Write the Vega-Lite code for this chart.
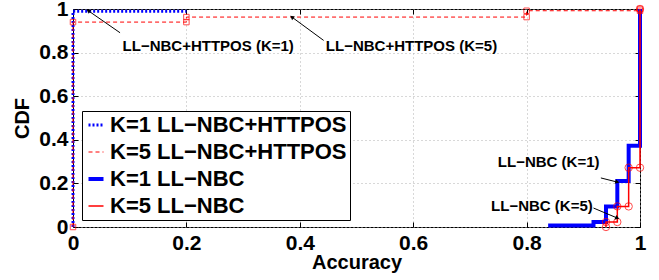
{
  "$schema": "https://vega.github.io/schema/vega-lite/v6.json",
  "width": 567,
  "height": 218,
  "autosize": {"type": "none"},
  "padding": {"left": 73, "top": 9, "right": 19, "bottom": 53},
  "background": "white",
  "config": {
    "view": {"stroke": "black", "strokeWidth": 1},
    "font": "Liberation Sans",
    "axis": {
      "labelFont": "Liberation Sans",
      "titleFont": "Liberation Sans",
      "labelFontSize": 21,
      "labelFontWeight": "bold",
      "labelColor": "black",
      "titleFontSize": 20,
      "titleFontWeight": "bold",
      "titleColor": "black",
      "tickColor": "black",
      "tickSize": -5,
      "labelPadding": 10,
      "domain": false,
      "gridColor": "#b0b0b0",
      "gridDash": [1, 3],
      "labelFlush": false,
      "labelOverlap": false
    }
  },
  "datasets": {
    "cdf": [
      {"s": "K=1 LL−NBC+HTTPOS", "o": 0, "x": 0, "y": 0},
      {"s": "K=1 LL−NBC+HTTPOS", "o": 1, "x": 0, "y": 0.99},
      {"s": "K=1 LL−NBC+HTTPOS", "o": 2, "x": 0.2, "y": 0.99},
      {"s": "K=5 LL−NBC+HTTPOS", "o": 0, "x": 0, "y": 0},
      {"s": "K=5 LL−NBC+HTTPOS", "o": 1, "x": 0, "y": 0.94},
      {"s": "K=5 LL−NBC+HTTPOS", "o": 2, "x": 0.2, "y": 0.94},
      {"s": "K=5 LL−NBC+HTTPOS", "o": 3, "x": 0.2, "y": 0.963},
      {"s": "K=5 LL−NBC+HTTPOS", "o": 4, "x": 0.8, "y": 0.963},
      {"s": "K=5 LL−NBC+HTTPOS", "o": 5, "x": 0.8, "y": 0.992},
      {"s": "K=5 LL−NBC+HTTPOS", "o": 6, "x": 1, "y": 0.992},
      {"s": "K=5 LL−NBC+HTTPOS", "o": 7, "x": 1, "y": 1},
      {"s": "K=1 LL−NBC", "o": 0, "x": 0.838, "y": 0.007},
      {"s": "K=1 LL−NBC", "o": 1, "x": 0.918, "y": 0.007},
      {"s": "K=1 LL−NBC", "o": 2, "x": 0.918, "y": 0.023},
      {"s": "K=1 LL−NBC", "o": 3, "x": 0.94, "y": 0.023},
      {"s": "K=1 LL−NBC", "o": 4, "x": 0.94, "y": 0.0945},
      {"s": "K=1 LL−NBC", "o": 5, "x": 0.96, "y": 0.0945},
      {"s": "K=1 LL−NBC", "o": 6, "x": 0.96, "y": 0.211},
      {"s": "K=1 LL−NBC", "o": 7, "x": 0.98, "y": 0.211},
      {"s": "K=1 LL−NBC", "o": 8, "x": 0.98, "y": 0.373},
      {"s": "K=1 LL−NBC", "o": 9, "x": 1, "y": 0.373},
      {"s": "K=1 LL−NBC", "o": 10, "x": 1, "y": 1},
      {"s": "K=5 LL−NBC", "o": 0, "x": 0.94, "y": 0},
      {"s": "K=5 LL−NBC", "o": 1, "x": 0.94, "y": 0.023},
      {"s": "K=5 LL−NBC", "o": 2, "x": 0.96, "y": 0.023},
      {"s": "K=5 LL−NBC", "o": 3, "x": 0.96, "y": 0.0945},
      {"s": "K=5 LL−NBC", "o": 4, "x": 0.98, "y": 0.0945},
      {"s": "K=5 LL−NBC", "o": 5, "x": 0.98, "y": 0.272},
      {"s": "K=5 LL−NBC", "o": 6, "x": 1, "y": 0.272},
      {"s": "K=5 LL−NBC", "o": 7, "x": 1, "y": 1}
    ],
    "ann": [
      {"label": "LL−NBC+HTTPOS (K=1)", "tx": 0.2385, "ty": 0.828, "ax": 0.083, "ay": 0.891, "bx": 0.027, "by": 0.992},
      {"label": "LL−NBC+HTTPOS (K=5)", "tx": 0.597, "ty": 0.828, "ax": 0.442, "ay": 0.856, "bx": 0.386, "by": 0.963},
      {"label": "LL−NBC (K=1)", "tx": 0.839, "ty": 0.298, "ax": 0.931, "ay": 0.225, "bx": 0.96, "by": 0.206},
      {"label": "LL−NBC (K=5)", "tx": 0.827, "ty": 0.0945, "ax": 0.918, "ay": 0.087, "bx": 0.96, "by": 0.041}
    ]
  },
  "layer": [
    {
      "data": {"name": "cdf"},
      "mark": {"type": "line", "clip": false},
      "encoding": {
        "x": {
          "field": "x", "type": "quantitative",
          "scale": {"domain": [0, 1], "nice": false, "zero": false},
          "axis": {"orient": "bottom", "values": [0, 0.2, 0.4, 0.6, 0.8, 1], "format": "~g", "title": "Accuracy", "titlePadding": -1, "grid": true}
        },
        "y": {
          "field": "y", "type": "quantitative",
          "scale": {"domain": [0, 1], "nice": false, "zero": false},
          "axis": {"orient": "left", "values": [0, 0.2, 0.4, 0.6, 0.8, 1], "format": "~g", "title": "CDF", "titlePadding": 6, "grid": true}
        },
        "order": {"field": "o", "type": "quantitative"},
        "color": {
          "field": "s", "type": "nominal",
          "scale": {"domain": ["K=1 LL−NBC+HTTPOS", "K=5 LL−NBC+HTTPOS", "K=1 LL−NBC", "K=5 LL−NBC"], "range": ["#0000ff", "#ff0000", "#0000ff", "#ff0000"]},
          "legend": {
            "orient": "none", "legendX": 9, "legendY": 102, "title": null,
            "fillColor": "white", "strokeColor": "black", "padding": 3,
            "labelFontSize": 22, "labelFontWeight": "bold", "labelColor": "black", "labelFont": "Liberation Sans",
            "labelLimit": 400, "symbolType": "stroke", "symbolSize": 225, "rowPadding": 5, "labelOffset": 3
          }
        },
        "strokeDash": {
          "field": "s", "type": "nominal",
          "scale": {"domain": ["K=1 LL−NBC+HTTPOS", "K=5 LL−NBC+HTTPOS", "K=1 LL−NBC", "K=5 LL−NBC"], "range": [[2, 2], [4, 3], [1, 0], [1, 0]]}
        },
        "strokeWidth": {
          "field": "s", "type": "nominal",
          "scale": {"type": "ordinal", "domain": ["K=1 LL−NBC+HTTPOS", "K=5 LL−NBC+HTTPOS", "K=1 LL−NBC", "K=5 LL−NBC"], "range": [3, 1, 4, 1.5]}
        }
      }
    },
    {
      "data": {"name": "cdf"},
      "transform": [{"filter": "datum.s == 'K=5 LL−NBC+HTTPOS'"}],
      "mark": {"type": "point", "shape": "square", "size": 30, "stroke": "#ff0000", "strokeWidth": 1, "filled": false, "clip": false},
      "encoding": {
        "x": {"field": "x", "type": "quantitative", "axis": null},
        "y": {"field": "y", "type": "quantitative", "axis": null}
      }
    },
    {
      "data": {"name": "cdf"},
      "transform": [{"filter": "datum.s == 'K=5 LL−NBC'"}],
      "mark": {"type": "point", "shape": "circle", "size": 55, "stroke": "#ff0000", "strokeWidth": 1, "filled": false, "clip": false},
      "encoding": {
        "x": {"field": "x", "type": "quantitative", "axis": null},
        "y": {"field": "y", "type": "quantitative", "axis": null}
      }
    },
    {
      "data": {"name": "ann"},
      "mark": {"type": "rule", "color": "black", "strokeWidth": 1},
      "encoding": {
        "x": {"field": "ax", "type": "quantitative", "axis": {"orient": "top", "values": [0, 0.2, 0.4, 0.6, 0.8, 1], "labels": false, "title": null, "grid": false}},
        "y": {"field": "ay", "type": "quantitative", "axis": {"orient": "right", "values": [0, 0.2, 0.4, 0.6, 0.8, 1], "labels": false, "title": null, "grid": false}},
        "x2": {"field": "bx"},
        "y2": {"field": "by"}
      }
    },
    {
      "data": {"name": "ann"},
      "transform": [{"calculate": "atan2((datum.bx - datum.ax) * 567, (datum.by - datum.ay) * 218) * 180 / PI", "as": "ang"}],
      "mark": {"type": "point", "shape": "triangle-up", "size": 22, "filled": true, "color": "black", "opacity": 1},
      "encoding": {
        "x": {"field": "bx", "type": "quantitative", "axis": null},
        "y": {"field": "by", "type": "quantitative", "axis": null},
        "angle": {"field": "ang", "type": "quantitative", "scale": null}
      }
    },
    {
      "data": {"name": "ann"},
      "mark": {"type": "text", "font": "Liberation Sans", "fontSize": 15, "fontWeight": "bold", "color": "black", "align": "center", "baseline": "middle"},
      "encoding": {
        "x": {"field": "tx", "type": "quantitative", "axis": null},
        "y": {"field": "ty", "type": "quantitative", "axis": null},
        "text": {"field": "label"}
      }
    }
  ],
  "resolve": {"axis": {"x": "independent", "y": "independent"}}
}
